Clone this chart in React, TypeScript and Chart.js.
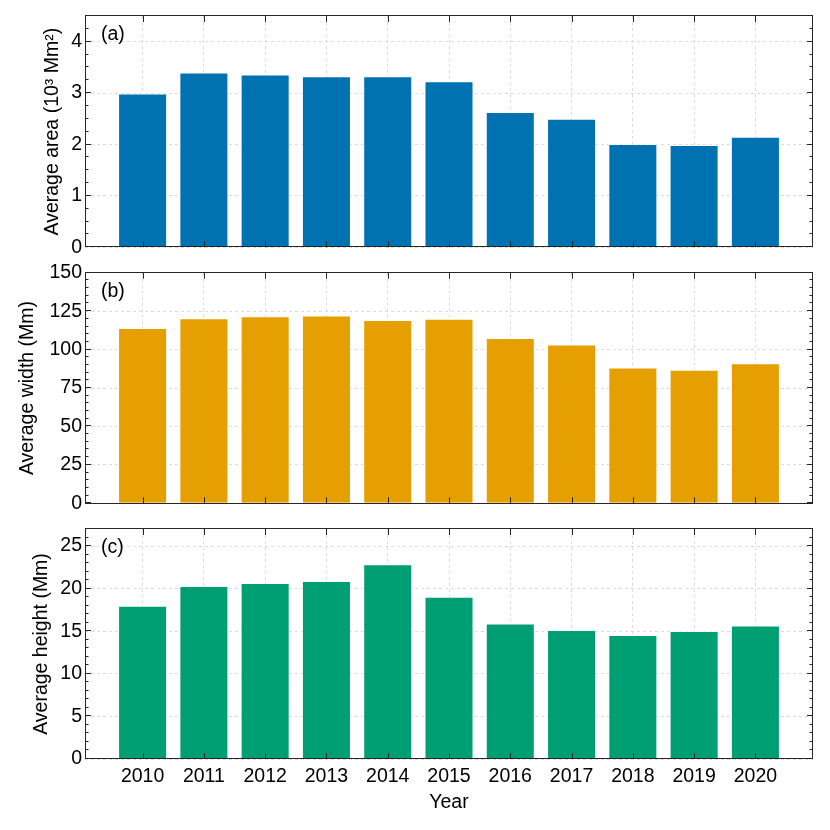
import React, { useEffect, useRef } from "react";
import { Chart, registerables } from "chart.js";

Chart.register(...registerables);

// ---- data ----
const years = [2010, 2011, 2012, 2013, 2014, 2015, 2016, 2017, 2018, 2019, 2020];
const areaValues = [2.99, 3.4, 3.36, 3.33, 3.33, 3.23, 2.63, 2.5, 2.01, 1.99, 2.15];
const widthValues = [114.1, 120.4, 121.7, 122.1, 119.3, 120.0, 107.6, 103.3, 88.4, 86.8, 91.1];
const heightValues = [18.0, 20.3, 20.67, 20.9, 22.86, 19.06, 15.9, 15.15, 14.57, 15.04, 15.66];
const areaTicks = [0, 1, 2, 3, 4];
const widthTicks = [0, 25, 50, 75, 100, 125, 150];
const heightTicks = [0, 5, 10, 15, 20, 25];

const FONT_FAMILY = '"Liberation Sans", Arial, Helvetica, sans-serif';
const FONT_SIZE = 19.5;

const framePlugin = {
  id: "frame",
  afterDraw(chart: any, _args: any, opts: any) {
    const { ctx, chartArea } = chart;
    const { left, right, top, bottom } = chartArea;
    const xs = chart.scales.x;
    const ys = chart.scales.y;
    ctx.save();
    ctx.strokeStyle = "#262626";
    ctx.lineWidth = 1;
    ctx.beginPath();
    for (const yr of years) {
      const px = Math.round(xs.getPixelForValue(yr)) + 0.5;
      ctx.moveTo(px, bottom);
      ctx.lineTo(px, bottom - 6);
      ctx.moveTo(px, top);
      ctx.lineTo(px, top + 6);
    }
    const n = Math.round((ys.max - ys.min) / opts.minor);
    for (let i = 0; i <= n; i++) {
      const v = ys.min + i * opts.minor;
      const r = v / opts.major;
      const isMajor = Math.abs(r - Math.round(r)) < 1e-6;
      const len = isMajor ? 6 : 3.5;
      const py = Math.round(ys.getPixelForValue(v)) - 0.5;
      ctx.moveTo(left, py);
      ctx.lineTo(left + len, py);
      ctx.moveTo(right, py);
      ctx.lineTo(right - len, py);
    }
    ctx.stroke();
    ctx.strokeRect(
      Math.round(left) + 0.5,
      Math.round(top) - 0.5,
      Math.round(right - left) - 1,
      Math.round(bottom - top)
    );
    ctx.fillStyle = "#000";
    ctx.font = `${FONT_SIZE}px ${FONT_FAMILY}`;
    ctx.textBaseline = "top";
    ctx.textAlign = "left";
    ctx.fillText(opts.label, left + 16, top + 9);
    ctx.restore();
  },
};

type PanelProps = {
  canvasTop: number;
  canvasHeight: number;
  padTop: number;
  padBottom: number;
  xHeight: number;
  showX: boolean;
  values: number[];
  color: string;
  yMax: number;
  yTicks: number[];
  minor: number;
  major: number;
  yTitle: string;
  yTitlePad: number;
  label: string;
};

function Panel(p: PanelProps) {
  const ref = useRef<HTMLCanvasElement | null>(null);
  useEffect(() => {
    if (!ref.current) return;
    const font = { family: FONT_FAMILY, size: FONT_SIZE };
    const chart = new Chart(ref.current, {
      type: "bar",
      data: {
        datasets: [
          {
            data: years.map((yr, i) => ({ x: yr, y: p.values[i] })),
            backgroundColor: p.color,
            borderColor: "rgba(255,255,255,0.45)",
            borderWidth: 1,
            borderSkipped: "start",
            barPercentage: 0.8,
            categoryPercentage: 1,
          },
        ],
      },
      plugins: [framePlugin],
      options: {
        animation: false,
        responsive: false,
        devicePixelRatio: 1,
        layout: { padding: { top: p.padTop, bottom: p.padBottom, left: 0, right: 17 } },
        plugins: {
          legend: { display: false },
          tooltip: { enabled: false },
          frame: { label: p.label, minor: p.minor, major: p.major },
        } as any,
        scales: {
          x: {
            type: "linear",
            min: 2009.06,
            max: 2020.94,
            offset: false,
            afterBuildTicks: (s: any) => {
              s.ticks = years.map((v) => ({ value: v }));
            },
            afterFit: (s: any) => {
              s.height = p.xHeight;
            },
            ticks: {
              display: p.showX,
              padding: 6,
              font,
              color: "#000",
              callback: (v: any) => String(v),
            },
            grid: { color: "#dcdcdc", drawTicks: false, lineWidth: 1, offset: false },
            border: { display: false, dash: [3, 3] },
            title: {
              display: p.showX,
              text: "Year",
              font,
              color: "#000",
              padding: { top: 0, bottom: 16 },
            },
          },
          y: {
            type: "linear",
            min: 0,
            max: p.yMax,
            afterBuildTicks: (s: any) => {
              s.ticks = p.yTicks.map((v) => ({ value: v }));
            },
            afterFit: (s: any) => {
              s.width = 85;
            },
            ticks: { padding: 3, font, color: "#000" },
            grid: { color: "#dcdcdc", drawTicks: false, lineWidth: 1 },
            border: { display: false, dash: [3, 3] },
            title: {
              display: true,
              text: p.yTitle,
              font,
              color: "#000",
              padding: { top: p.yTitlePad, bottom: 0 },
            },
          },
        } as any,
      },
    } as any);
    return () => chart.destroy();
  }, []);
  return (
    <canvas
      ref={ref}
      width={830}
      height={p.canvasHeight}
      style={{ position: "absolute", left: 0, top: p.canvasTop, width: 830, height: p.canvasHeight }}
    />
  );
}

export default function App() {
  return (
    <div
      style={{
        position: "absolute",
        left: 0,
        top: 0,
        width: 830,
        height: 830,
        background: "#fff",
        overflow: "hidden",
      }}
    >
      <Panel
        canvasTop={0}
        canvasHeight={262}
        padTop={16}
        padBottom={14}
        xHeight={0}
        showX={false}
        values={areaValues}
        color="#0072B2"
        yMax={4.5}
        yTicks={areaTicks}
        minor={0.25}
        major={1}
        yTitle="Average area (10³ Mm²)"
        yTitlePad={41}
        label="(a)"
      />
      <Panel
        canvasTop={258}
        canvasHeight={260}
        padTop={14}
        padBottom={14}
        xHeight={0}
        showX={false}
        values={widthValues}
        color="#E69F00"
        yMax={150}
        yTicks={widthTicks}
        minor={5}
        major={25}
        yTitle="Average width (Mm)"
        yTitlePad={16}
        label="(b)"
      />
      <Panel
        canvasTop={512}
        canvasHeight={318}
        padTop={17}
        padBottom={0}
        xHeight={71}
        showX={true}
        values={heightValues}
        color="#009E73"
        yMax={27}
        yTicks={heightTicks}
        minor={1}
        major={5}
        yTitle="Average height (Mm)"
        yTitlePad={30}
        label="(c)"
      />
    </div>
  );
}
